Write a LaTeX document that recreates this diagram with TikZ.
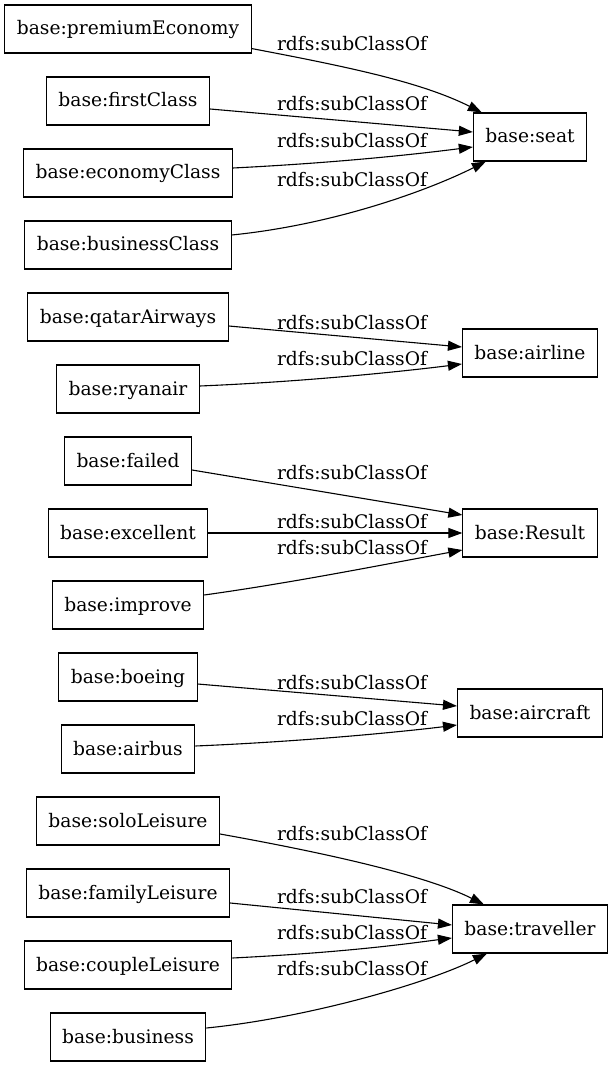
\documentclass[tikz,border=0pt]{standalone}
\usepackage{fontspec}
\setmainfont{DejaVu Serif}
\usetikzlibrary{arrows.meta,calc}
\begin{document}
\begin{tikzpicture}[x=1pt,y=-1pt,
  cls/.style={draw=black,line width=1.1pt,rectangle,inner xsep=12pt,inner ysep=0pt,
    minimum height=48pt,text height=16pt,text depth=4pt,
    font=\fontsize{18.67pt}{22pt}\selectfont},
  lbl/.style={inner sep=0pt,text height=16pt,text depth=4pt,
    font=\fontsize{18.67pt}{22pt}\selectfont},
  edge/.style={line width=1.1pt,-{Triangle[length=14pt,width=10pt]}}]
\useasboundingbox (0,0) rectangle (613,1067);
% left column
\node[cls] (pe) at (128,29) {base:premiumEconomy};
\node[cls] (fc) at (128,101) {base:firstClass};
\node[cls] (ec) at (128,173) {base:economyClass};
\node[cls] (bc) at (128,245) {base:businessClass};
\node[cls] (qa) at (128,317) {base:qatarAirways};
\node[cls] (ry) at (128,389) {base:ryanair};
\node[cls] (fa) at (128,461) {base:failed};
\node[cls] (ex) at (128,533) {base:excellent};
\node[cls] (im) at (128,605) {base:improve};
\node[cls] (bo) at (128,677) {base:boeing};
\node[cls] (ab) at (128,749) {base:airbus};
\node[cls] (so) at (128,821) {base:soloLeisure};
\node[cls] (fl) at (128,893) {base:familyLeisure};
\node[cls] (cl) at (128,965) {base:coupleLeisure};
\node[cls] (bu) at (128,1037) {base:business};
% right column
\node[cls] (seat) at (530,137) {base:seat};
\node[cls] (air) at (530,353) {base:airline};
\node[cls] (res) at (530,533) {base:Result};
\node[cls] (acr) at (530,713) {base:aircraft};
\node[cls] (tra) at (530,929) {base:traveller};
% edges: seat
\draw[edge] ($(pe.south east)+(0,-5)$) .. controls +(100,19) and +(-60,-30) .. ($(seat.north west)+(9,0)$);
\draw[edge] ($(fc.east)+(0,8)$) -- ($(seat.west)+(0,-5)$);
\draw[edge] ($(ec.east)+(0,-5)$) .. controls +(120,-6) and +(-40,5) .. ($(seat.west)+(0,10)$);
\draw[edge] ($(bc.east)+(0,-10)$) .. controls +(100,-10) and +(-60,30) .. ($(seat.south west)+(13,0)$);
% airline
\draw[edge] ($(qa.east)+(0,9)$) -- ($(air.west)+(0,-6)$);
\draw[edge] ($(ry.east)+(0,-3)$) .. controls +(120,-5) and +(-40,5) .. ($(air.west)+(0,11)$);
% Result
\draw[edge] ($(fa.east)+(0,9)$) -- ($(res.west)+(0,-18)$);
\draw[edge] (ex.east) -- (res.west);
\draw[edge] ($(im.east)+(0,-10)$) .. controls +(86,-12) and +(-86,16) .. ($(res.west)+(0,17)$);
% aircraft
\draw[edge] ($(bo.east)+(0,7)$) -- ($(acr.west)+(0,-7)$);
\draw[edge] ($(ab.east)+(0,-3)$) .. controls +(120,-5) and +(-40,5) .. ($(acr.west)+(0,12)$);
% traveller
\draw[edge] ($(so.east)+(0,13)$) .. controls +(100,18) and +(-60,-30) .. ($(tra.north west)+(32,0)$);
\draw[edge] ($(fl.east)+(0,10)$) -- ($(tra.west)+(0,-4)$);
\draw[edge] ($(cl.east)+(0,-7)$) .. controls +(120,-6) and +(-40,5) .. ($(tra.west)+(0,9)$);
\draw[edge] ($(bu.east)+(0,-9)$) .. controls +(100,-10) and +(-60,30) .. ($(tra.south west)+(35,0)$);
% labels
\node[lbl] (l1) at (352,45) {rdfs:subClassOf};
\node[lbl] (l2) at (352,105) {rdfs:subClassOf};
\node[lbl] (l3) at (352,142) {rdfs:subClassOf};
\node[lbl] (l4) at (352,181) {rdfs:subClassOf};
\node[lbl] (l5) at (352,323) {rdfs:subClassOf};
\node[lbl] (l6) at (352,359) {rdfs:subClassOf};
\node[lbl] (l7) at (352,473) {rdfs:subClassOf};
\node[lbl] (l8) at (352,522) {rdfs:subClassOf};
\node[lbl] (l9) at (352,548) {rdfs:subClassOf};
\node[lbl] (l10) at (352,683) {rdfs:subClassOf};
\node[lbl] (l11) at (352,719) {rdfs:subClassOf};
\node[lbl] (l12) at (352,834) {rdfs:subClassOf};
\node[lbl] (l13) at (352,897) {rdfs:subClassOf};
\node[lbl] (l14) at (352,933) {rdfs:subClassOf};
\node[lbl] (l15) at (352,969) {rdfs:subClassOf};
\end{tikzpicture}
\end{document}
